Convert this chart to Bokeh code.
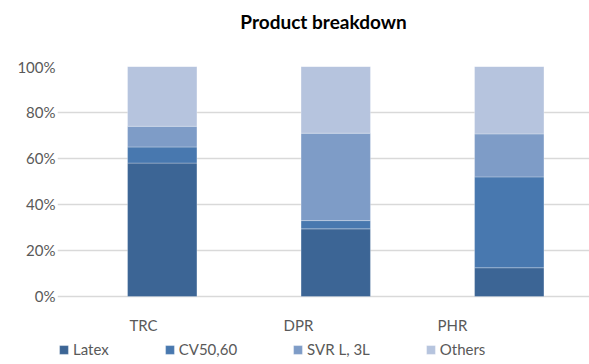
from bokeh.plotting import figure
from bokeh.models import ColumnDataSource, FixedTicker, Legend, LegendItem, Range1d, NumeralTickFormatter, Title
from bokeh.core.properties import value
from bokeh.embed import file_html
from bokeh.resources import INLINE

categories = ["TRC", "DPR", "PHR"]
series = ["Latex", "CV50,60", "SVR L, 3L", "Others"]
latex = [0.58, 0.294, 0.125]
cv = [0.07, 0.036, 0.395]
svr = [0.09, 0.38, 0.187]
others = [0.26, 0.29, 0.293]
colors = ["#3C6595", "#4878AF", "#7E9CC7", "#B6C4DE"]
yticks = [0, 0.2, 0.4, 0.6, 0.8, 1.0]

xs = [i + 0.5 for i in range(len(categories))]
data = dict(x=xs, Latex=latex, CV=cv, SVR=svr, Others=others)
src = ColumnDataSource(data)

p = figure(frame_width=532, frame_height=298, output_backend="svg", toolbar_location=None,
           x_range=Range1d(-0.1037, 2.9625), y_range=Range1d(-0.2957, 1.0),
           min_border_left=57, min_border_right=0, min_border_top=66, min_border_bottom=0)
p.outline_line_color = None

rs = p.vbar_stack(["Latex", "CV", "SVR", "Others"], x="x", width=0.4, source=src,
                  color=colors, line_color="white", line_alpha=0.35, line_width=0.8)

p.title.text = "Product breakdown"
p.title.align = "center"
p.title.text_font = "Lato"
p.title.text_font_size = "19px"
p.title.text_font_style = "bold"
p.title.text_color = "#000000"
p.title.offset = 4
p.title.standoff = 0
spacer = Title(text=" ", text_font_size="29px", standoff=0)
p.add_layout(spacer, "above")

p.yaxis.ticker = FixedTicker(ticks=yticks)
p.yaxis.formatter = NumeralTickFormatter(format="0%")
p.yaxis.axis_line_color = None
p.yaxis.major_tick_line_color = None
p.yaxis.minor_tick_line_color = None
p.yaxis.major_tick_out = 0
p.yaxis.major_tick_in = 0
p.yaxis.major_label_text_font = "Lato"
p.yaxis.major_label_text_font_size = "15px"
p.yaxis.major_label_text_color = "#595959"
p.yaxis.major_label_standoff = 2

p.xaxis.visible = False
p.xgrid.grid_line_color = None
p.ygrid.ticker = FixedTicker(ticks=yticks)
p.ygrid.grid_line_color = "#D9D9D9"
p.ygrid.grid_line_width = 1.3

label_pos = [0.392, 1.285, 2.173]
p.text(x=label_pos, y=[-0.126] * 3, text=categories, text_align="center",
       text_baseline="middle", text_font=value("Lato"), text_font_size="15px",
       text_color="#595959")

legend = Legend(items=[LegendItem(label=series[i], renderers=[rs[i]]) for i in range(4)],
                orientation="horizontal", location=(1, 6))
legend.label_text_font = "Lato"
legend.label_text_font_size = "15px"
legend.label_text_color = "#595959"
legend.glyph_width = 11
legend.glyph_height = 11
legend.label_standoff = 4
legend.spacing = 55
legend.padding = 0
legend.margin = 0
legend.border_line_color = None
legend.background_fill_alpha = 0
p.add_layout(legend, "center")

open("out.html", "w").write(file_html(p, INLINE))
